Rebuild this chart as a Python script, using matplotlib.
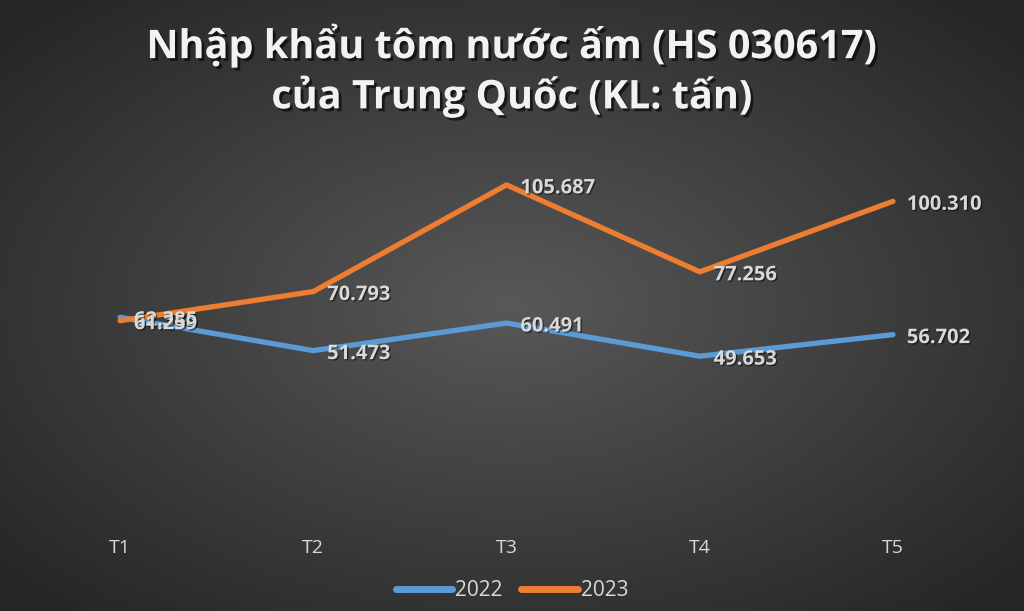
import numpy as np
from matplotlib import pyplot as plt
from matplotlib import patheffects as pe
from matplotlib.colors import LinearSegmentedColormap

c_b = "#5b9bd5"
c_o = "#ed7d31"
c_txt = "#d9d9d9"

months = ["T1", "T2", "T3", "T4", "T5"]
v2022 = [62.385, 51.473, 60.491, 49.653, 56.702]
v2023 = [61.259, 70.793, 105.687, 77.256, 100.310]

plt.rcParams['font.family'] = ['Open Sans', 'DejaVu Sans']

fig = plt.figure(figsize=(10.24, 6.11), dpi=100)

# radial grey background (lighter in the middle)
bg = fig.add_axes([0, 0, 1, 1])
yy, xx = np.mgrid[-1:1:300j, -1:1:500j]
r = np.sqrt(xx**2 + yy**2)
grey = LinearSegmentedColormap.from_list("g", ["#585858", "#262626"])
bg.imshow(r, cmap=grey, vmin=0, vmax=1.35, aspect="auto", extent=[0, 1, 0, 1])
bg.axis("off")

ax = fig.add_axes([0.0229, 0.1686, 0.9435, 0.6004])
ax.patch.set_alpha(0)
x = np.arange(len(months))
ax.plot(x, v2022, color=c_b, lw=3.8, solid_capstyle="round", label="2022")
ax.plot(x, v2023, color=c_o, lw=3.8, solid_capstyle="round", label="2023")

shadow = [pe.withSimplePatchShadow(offset=(1, -1), shadow_rgbFace="black", alpha=0.5)]

for series in (v2022, v2023):
    for xi, v in zip(x, series):
        ax.annotate(f"{v:.3f}", (xi, v), xytext=(10, -2.5), textcoords="offset points",
                    va="center", ha="left", color=c_txt, fontsize=14.5,
                    fontweight="bold", path_effects=shadow)

ax.set_xlim(-0.5, 4.5)
ax.set_ylim(0, 120)
ax.set_xticks(x)
ax.set_xticklabels(months)
ax.set_yticks([])
ax.tick_params(axis="x", length=0, colors=c_txt, labelsize=14, pad=22)
for s in ax.spines.values():
    s.set_visible(False)

leg = fig.legend(loc="lower center", bbox_to_anchor=(0.5, -0.015), ncol=2, frameon=False,
                 fontsize=15, handlelength=2.7, columnspacing=0.9, handletextpad=0.15)
for t in leg.get_texts():
    t.set_color(c_txt)
for h in leg.get_lines():
    h.set_linewidth(5)
    h.set_solid_capstyle("round")

fig.text(0.5, 0.885, "Nhập khẩu tôm nước ấm (HS 030617)\ncủa Trung Quốc (KL: tấn)",
         ha="center", va="center", color="#f2f2f2", fontsize=28.5, fontweight="bold",
         linespacing=1.25,
         path_effects=[pe.withSimplePatchShadow(offset=(2, -2), shadow_rgbFace="black", alpha=0.6)])

fig.savefig("out.png", dpi=100)
